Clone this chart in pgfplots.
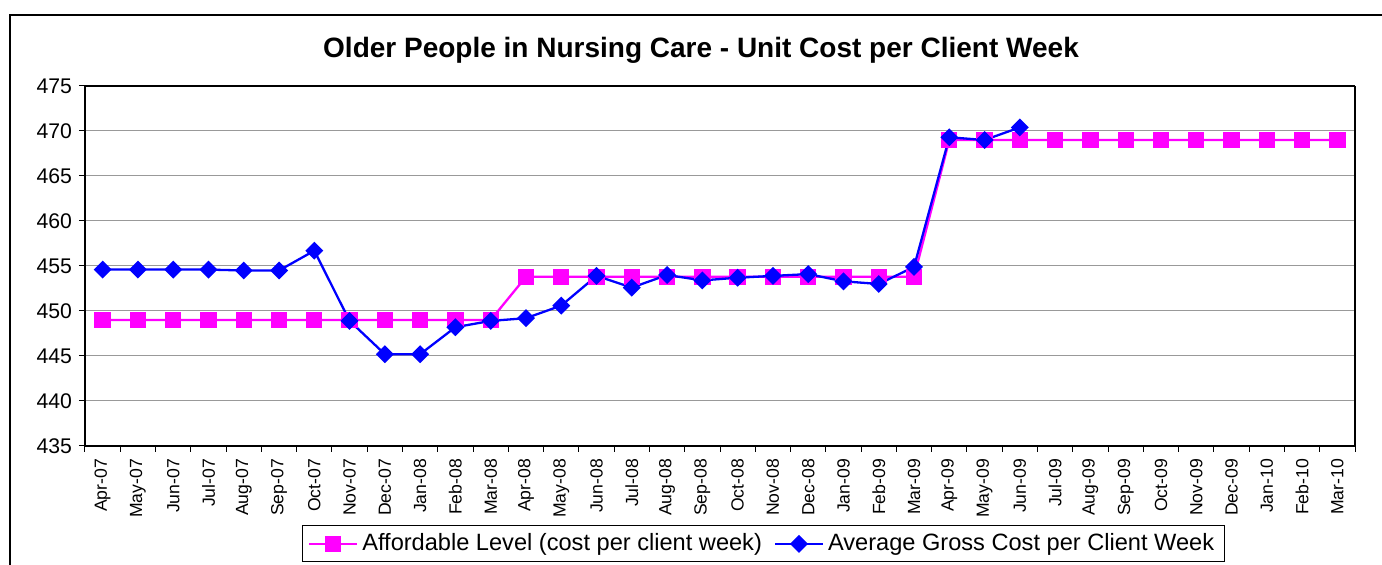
\documentclass[border=0pt]{standalone}
\usepackage{pgfplots}
\pgfplotsset{compat=1.18}
\usepackage{fontspec}
\setmainfont{Liberation Sans}
\definecolor{mag}{RGB}{255,0,255}
\definecolor{blu}{RGB}{0,0,255}
\begin{document}
\begin{tikzpicture}
\useasboundingbox (0,0) rectangle (691pt,-282.5pt);
\draw[black, line width=0.6pt] (5pt,-300pt) -- (5pt,-7.5pt) -- (720pt,-7.5pt);
\node[font=\bfseries\fontsize{14}{16}\selectfont] at (350.5pt,-25pt) {Older People in Nursing Care - Unit Cost per Client Week};
\begin{axis}[
  at={(42.5pt,-223pt)}, anchor=south west,
  scale only axis, width=635pt, height=180pt,
  xmin=-0.5, xmax=35.5, ymin=435, ymax=475,
  ytick={435,440,...,475},
  xtick={0,...,35},
  xticklabels={Apr-07,May-07,Jun-07,Jul-07,Aug-07,Sep-07,Oct-07,Nov-07,Dec-07,Jan-08,Feb-08,Mar-08,Apr-08,May-08,Jun-08,Jul-08,Aug-08,Sep-08,Oct-08,Nov-08,Dec-08,Jan-09,Feb-09,Mar-09,Apr-09,May-09,Jun-09,Jul-09,Aug-09,Sep-09,Oct-09,Nov-09,Dec-09,Jan-10,Feb-10,Mar-10},
  x tick label style={rotate=90, anchor=east, font=\fontsize{8.8}{10}\selectfont},
  y tick label style={font=\fontsize{10.6}{12}\selectfont},
  /pgf/number format/assume math mode=true,
  minor xtick={-0.5,0.5,...,35.5},
  major x tick style={draw=none},
  minor x tick style={black, line width=0.5pt},
  y tick style={black, line width=0.5pt},
  tick align=outside,
  major tick length=3pt, minor tick length=3pt,
  xtick pos=bottom, ytick pos=left,
  ymajorgrids, grid style={gray!80, line width=0.5pt},
  axis line style={gray!80, line width=1pt},
  separate axis lines,
  x axis line style={black, line width=0.8pt},
  y axis line style={black, line width=0.8pt},
  clip=false,
  legend columns=2,
  legend style={at={(0.534,-0.272)}, anchor=center, draw=black, line width=0.5pt,
    font=\fontsize{11.8}{13}\selectfont, /tikz/every even column/.append style={column sep=4pt}},
  legend cell align=left,
  legend image code/.code={\draw[mark repeat=2,mark phase=2] plot coordinates {(0cm,0cm) (0.42cm,0cm) (0.84cm,0cm)};},
]
\addplot[mag, line width=1.15pt, mark=square*, mark size=3.5pt, mark options={solid, fill=mag, draw=mag}] coordinates {
(0,449.0)(1,449.0)(2,449.0)(3,449.0)(4,449.0)(5,449.0)(6,449.0)(7,449.0)(8,449.0)(9,449.0)(10,449.0)(11,449.0)
(12,453.8)(13,453.8)(14,453.8)(15,453.8)(16,453.8)(17,453.8)(18,453.8)(19,453.8)(20,453.8)(21,453.8)(22,453.8)(23,453.8)
(24,469.0)(25,469.0)(26,469.0)(27,469.0)(28,469.0)(29,469.0)(30,469.0)(31,469.0)(32,469.0)(33,469.0)(34,469.0)(35,469.0)};
\addlegendentry{Affordable Level (cost per client week)}
\addplot[blu, line width=1.15pt, mark=square*, mark size=2.6pt, mark options={solid, fill=blu, draw=blu, rotate=45}] coordinates {
(0,454.6)(1,454.6)(2,454.6)(3,454.6)(4,454.5)(5,454.5)(6,456.7)(7,448.9)(8,445.2)(9,445.2)(10,448.2)(11,448.9)
(12,449.2)(13,450.6)(14,453.9)(15,452.6)(16,454.0)(17,453.4)(18,453.7)(19,453.9)(20,454.1)(21,453.3)(22,453.0)(23,454.9)
(24,469.3)(25,469.0)(26,470.4)};
\addlegendentry{Average Gross Cost per Client Week}
\end{axis}
\end{tikzpicture}
\end{document}
